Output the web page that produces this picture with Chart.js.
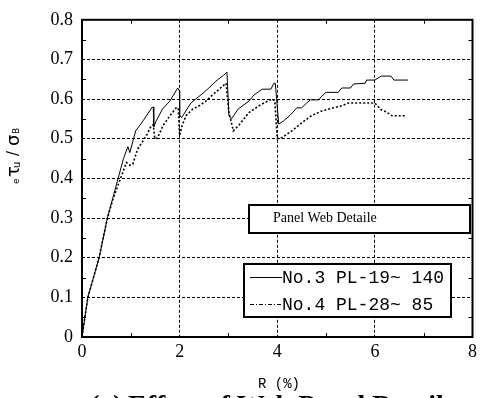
<!DOCTYPE html>
<html>
<head>
<meta charset="utf-8">
<script src="https://cdn.jsdelivr.net/npm/chart.js@4/dist/chart.umd.min.js"></script>
<style>
  html, body { margin: 0; padding: 0; background: #fff; }
  #wrap { position: relative; width: 481px; height: 398px; }
</style>
</head>
<body>
<div id="wrap"><canvas id="c" width="481" height="398"></canvas></div>
<script>
// R (%) and e-tau-u / sigma-B
const no3R = [0, 0.12, 0.35, 0.52, 0.63, 0.74, 0.85, 0.94, 0.98, 1.1, 1.25, 1.44, 1.46, 1.47, 1.52, 1.65, 1.8, 1.96, 2.0, 2.0, 2.04, 2.23, 2.33, 2.48, 2.6, 2.74, 2.9, 2.97, 3.01, 3.06, 3.2, 3.42, 3.52, 3.69, 3.87, 3.93, 3.96, 4.03, 4.13, 4.27, 4.4, 4.5, 4.6, 4.68, 4.85, 4.91, 5.0, 5.25, 5.32, 5.5, 5.56, 5.8, 5.83, 6.0, 6.13, 6.33, 6.39, 6.68];
const no3V = [0, 0.1, 0.2, 0.3, 0.35, 0.4, 0.45, 0.48, 0.465, 0.52, 0.545, 0.58, 0.58, 0.53, 0.545, 0.575, 0.595, 0.628, 0.62, 0.56, 0.553, 0.59, 0.6, 0.615, 0.628, 0.645, 0.66, 0.668, 0.558, 0.55, 0.575, 0.595, 0.61, 0.625, 0.625, 0.64, 0.64, 0.537, 0.545, 0.56, 0.578, 0.578, 0.59, 0.598, 0.598, 0.607, 0.617, 0.617, 0.628, 0.628, 0.638, 0.64, 0.648, 0.648, 0.658, 0.658, 0.648, 0.648];
const no4R = [0, 0.12, 0.35, 0.52, 0.64, 0.79, 0.91, 0.98, 1.04, 1.14, 1.32, 1.42, 1.46, 1.49, 1.55, 1.66, 1.8, 1.93, 1.97, 2.0, 2.05, 2.13, 2.27, 2.4, 2.54, 2.67, 2.81, 2.95, 3.01, 3.1, 3.22, 3.42, 3.66, 3.89, 3.95, 4.0, 4.1, 4.3, 4.5, 4.7, 4.91, 5.15, 5.32, 5.46, 6.0, 6.13, 6.23, 6.35, 6.64];
const no4V = [0, 0.1, 0.2, 0.3, 0.35, 0.4, 0.44, 0.433, 0.436, 0.474, 0.508, 0.533, 0.535, 0.5, 0.503, 0.533, 0.558, 0.578, 0.578, 0.508, 0.533, 0.558, 0.575, 0.583, 0.595, 0.61, 0.625, 0.64, 0.566, 0.52, 0.535, 0.566, 0.586, 0.6, 0.596, 0.5, 0.503, 0.52, 0.54, 0.558, 0.57, 0.578, 0.583, 0.59, 0.59, 0.573, 0.568, 0.558, 0.558];
const xTicks = [0, 2, 4, 6, 8];
const yTicks = [0, 0.1, 0.2, 0.3, 0.4, 0.5, 0.6, 0.7, 0.8];

const pts = (xs, ys) => xs.map((x, i) => ({ x: x, y: ys[i] }));

// frame, inward ticks, legend boxes and text labels
const decor = {
  id: 'decor',
  afterDraw(chart) {
    const ctx = chart.ctx;
    const a = chart.chartArea;
    const sx = chart.scales.x, sy = chart.scales.y;
    ctx.save();
    ctx.strokeStyle = '#000';
    ctx.lineWidth = 1;
    ctx.beginPath();
    for (let v = 1; v < 8; v += 2) {
      const px = Math.round(sx.getPixelForValue(v)) + 0.5;
      ctx.moveTo(px, a.bottom); ctx.lineTo(px, a.bottom - 4);
      ctx.moveTo(px, a.top); ctx.lineTo(px, a.top + 4);
    }
    for (let k = 1; k < 16; k += 2) {
      const py = Math.round(sy.getPixelForValue(k * 0.05)) + 0.5;
      ctx.moveTo(a.left, py); ctx.lineTo(a.left + 4, py);
      ctx.moveTo(a.right, py); ctx.lineTo(a.right - 4, py);
    }
    ctx.stroke();
    ctx.lineWidth = 2;
    ctx.strokeRect(a.left, a.top, a.right - a.left, a.bottom - a.top);

    // "Panel Web Detaile" box
    ctx.fillStyle = '#fff';
    ctx.fillRect(248, 204, 222, 29);
    ctx.lineWidth = 2;
    ctx.strokeRect(249, 205, 221, 28);
    ctx.fillStyle = '#000';
    ctx.font = '14px "Liberation Serif", "DejaVu Serif", serif';
    ctx.textBaseline = 'middle';
    ctx.textAlign = 'left';
    ctx.fillText('Panel Web Detaile', 273, 218);

    // series legend box
    ctx.fillStyle = '#fff';
    ctx.fillRect(243, 263, 208, 54);
    ctx.strokeRect(244, 264, 207, 53);
    ctx.lineWidth = 1;
    ctx.beginPath();
    ctx.moveTo(250, 277.5); ctx.lineTo(282, 277.5);
    ctx.stroke();
    ctx.setLineDash([4, 2, 1, 2]);
    ctx.beginPath();
    ctx.moveTo(250, 304.5); ctx.lineTo(282, 304.5);
    ctx.stroke();
    ctx.setLineDash([]);
    ctx.fillStyle = '#000';
    ctx.font = '18px "Liberation Mono", "DejaVu Sans Mono", monospace';
    ctx.fillText('No.3 PL-19~ 140', 282, 278);
    ctx.fillText('No.4 PL-28~ 85', 282, 305);

    // axis titles
    ctx.font = '14px "Liberation Mono", monospace';
    ctx.textAlign = 'center';
    ctx.fillText('R (%)', 279, 384);

    ctx.save();
    ctx.translate(14, 152);
    ctx.rotate(-Math.PI / 2);
    ctx.textAlign = 'left';
    ctx.font = '9px "DejaVu Sans", sans-serif';
    ctx.fillText('e', -32, 3);
    ctx.font = '18px "DejaVu Sans", sans-serif';
    ctx.fillText('\u03C4', -25, 0);
    ctx.font = '10px "DejaVu Sans", sans-serif';
    ctx.fillText('u', -16, 3);
    ctx.font = '15px "DejaVu Sans", sans-serif';
    ctx.fillText('/', -4, 0);
    ctx.font = '18px "DejaVu Sans", sans-serif';
    ctx.fillText('\u03C3', 6, 0);
    ctx.font = '9px "DejaVu Sans", sans-serif';
    ctx.fillText('B', 18, 3);
    ctx.restore();

    // caption (cut at the bottom edge, as in the source)
    ctx.font = 'bold 28px "Liberation Serif", serif';
    ctx.textAlign = 'left';
    ctx.textBaseline = 'alphabetic';
    ctx.fillText('(a)', 90, 414);
    ctx.fillText('Effect of Web Panel Detail', 128, 414);
    ctx.restore();
  }
};

new Chart(document.getElementById('c'), {
  type: 'line',
  data: {
    datasets: [
      {
        label: 'No.3 PL-19~ 140',
        data: pts(no3R, no3V),
        borderColor: '#000',
        borderWidth: 1,
        pointRadius: 0,
        tension: 0,
      },
      {
        label: 'No.4 PL-28~ 85',
        data: pts(no4R, no4V),
        borderColor: '#000',
        borderWidth: 1.6,
        borderDash: [2, 2],
        pointRadius: 0,
        tension: 0,
      },
    ],
  },
  options: {
    responsive: false,
    animation: false,
    layout: { padding: { top: 16, right: 6, left: 0, bottom: 0 } },
    plugins: { legend: { display: false }, tooltip: { enabled: false } },
    scales: {
      x: {
        type: 'linear',
        min: 0,
        max: 8,
        afterBuildTicks: (s) => { s.ticks = xTicks.map((v) => ({ value: v })); },
        afterFit: (s) => { s.height = 61; },
        grid: { color: '#000', lineWidth: 1, drawTicks: false },
        border: { display: false, dash: [3, 2] },
        ticks: {
          color: '#000',
          padding: 4,
          maxRotation: 0,
          font: { family: '"Liberation Serif", serif', size: 18 },
        },
      },
      y: {
        min: 0,
        max: 0.8,
        afterBuildTicks: (s) => { s.ticks = yTicks.map((v) => ({ value: v })); },
        afterFit: (s) => { s.width = 82; },
        grid: { color: '#000', lineWidth: 1, drawTicks: false },
        border: { display: false, dash: [3, 2] },
        ticks: {
          color: '#000',
          padding: 9,
          font: { family: '"Liberation Serif", serif', size: 18 },
          callback: (v) => (v === 0 ? '0' : v.toFixed(1)),
        },
      },
    },
  },
  plugins: [decor],
});
</script>
</body>
</html>
